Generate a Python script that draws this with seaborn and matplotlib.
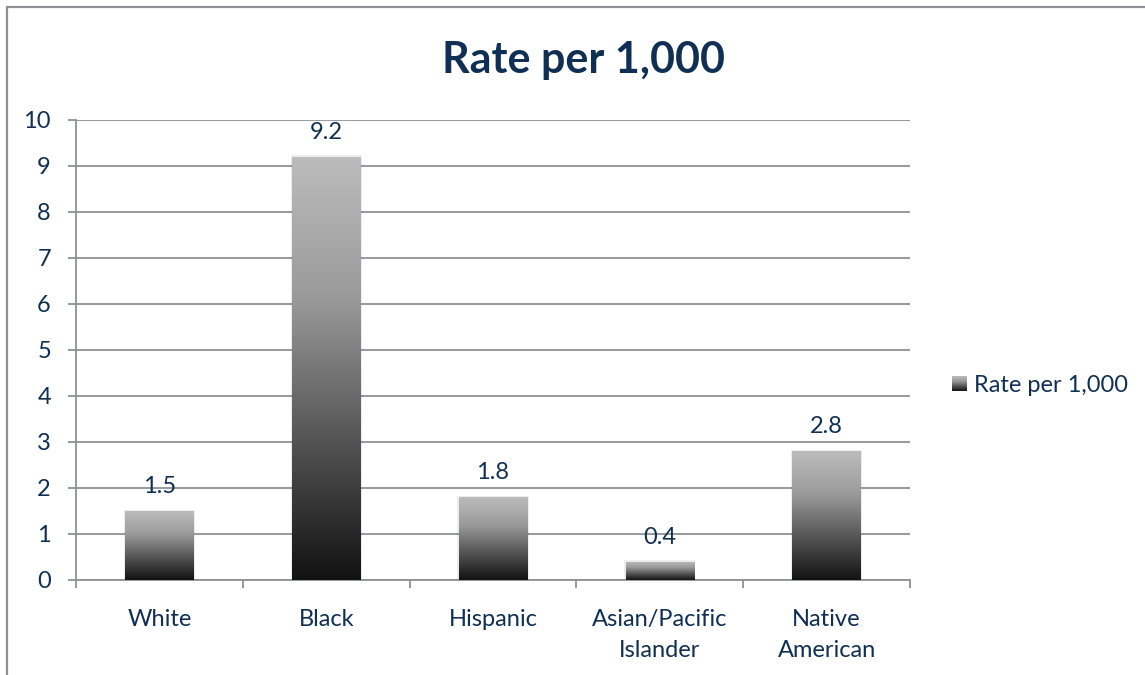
import numpy as np
import matplotlib
matplotlib.use('Agg')
import matplotlib.pyplot as plt
import seaborn as sns
from matplotlib.legend_handler import HandlerBase
from matplotlib.image import BboxImage
from matplotlib.transforms import Bbox, TransformedBbox
from matplotlib.patches import Rectangle
from matplotlib.lines import Line2D

# dados
categorias = ['White', 'Black', 'Hispanic', 'Asian/Pacific\nIslander', 'Native\nAmerican']
taxas = [1.5, 9.2, 1.8, 0.4, 2.8]
serie = 'Rate per 1,000'
y_ticks = list(range(0, 11))

COR_TEXTO = '#102F54'
COR_GRADE = '#8E9297'

sns.set_theme(style='white')
plt.rcParams['font.family'] = ['Lato', 'DejaVu Sans']

# gradiente vertical: cinza claro no topo, quase preto embaixo
grad = np.linspace(0, 1, 256).reshape(-1, 1)
cmap_barra = matplotlib.colors.LinearSegmentedColormap.from_list(
    'barra', ['#121212', '#555555', '#9A9A9A', '#BCBCBC'])

fig = plt.figure(figsize=(11.45, 6.75), dpi=100)
ax = fig.add_axes([76 / 1145, 95 / 675, 834 / 1145, 460 / 675])

sns.barplot(x=categorias, y=taxas, ax=ax, width=0.41, color='#777777', zorder=3)

for p in ax.patches:
    x0, y0 = p.get_x(), p.get_y()
    w, h = p.get_width(), p.get_height()
    # sombra bem leve
    ax.add_patch(Rectangle((x0 - 0.008, y0), w + 0.016, h + 0.03,
                           facecolor='black', alpha=0.07, edgecolor='none', zorder=2))
    im = ax.imshow(grad, cmap=cmap_barra, aspect='auto', origin='lower',
                   extent=[x0, x0 + w, y0, y0 + h], zorder=3, interpolation='bicubic')
    im.set_clip_path(p)
    p.set_facecolor('none')
    p.set_edgecolor('none')

ax.set_xlim(-0.5, 4.5)
ax.set_ylim(0, 10)
ax.set_yticks(y_ticks)
ax.yaxis.grid(True, color=COR_GRADE, linewidth=1.3, zorder=0)
ax.set_axisbelow(True)

# rotulos de dados
for i, v in enumerate(taxas):
    ax.text(i, v + 0.3, f'{v}', ha='center', va='bottom', fontsize=17, color=COR_TEXTO, zorder=5)

# eixos
for s in ['top', 'right']:
    ax.spines[s].set_visible(False)
ax.spines['left'].set_color(COR_GRADE)
ax.spines['bottom'].set_color(COR_GRADE)
ax.spines['left'].set_linewidth(1.3)
ax.spines['bottom'].set_linewidth(1.3)

ax.tick_params(axis='y', which='major', left=True, length=6, width=1.3, color=COR_GRADE,
               labelsize=17, labelcolor=COR_TEXTO, pad=12)
ax.set_xticks(range(len(categorias)))
ax.set_xticklabels(categorias, linespacing=1.6)
ax.set_xticks(np.arange(-0.5, 5, 1), minor=True)
ax.tick_params(axis='x', which='major', length=0, labelsize=17, labelcolor=COR_TEXTO, pad=21)
ax.tick_params(axis='x', which='minor', bottom=True, length=6, width=1.3, color=COR_GRADE)
ax.set_xlabel('')
ax.set_ylabel('')

fig.text(584 / 1145, 1 - 73 / 675, serie, ha='center', va='baseline',
         fontsize=31, fontweight='bold', color=COR_TEXTO)


# legenda com quadrado em gradiente
class HandlerGradiente(HandlerBase):
    def create_artists(self, legend, orig_handle, xdescent, ydescent, width, height, fontsize, trans):
        s = min(width, height)
        bb = Bbox.from_bounds(-xdescent + (width - s), -ydescent + (height - s) / 2, s, s)
        img = BboxImage(TransformedBbox(bb, trans), cmap=cmap_barra, origin='lower')
        img.set_data(grad)
        return [img]


h = Rectangle((0, 0), 1, 1)
leg = ax.legend([h], [serie], handler_map={Rectangle: HandlerGradiente()},
                loc='center left', bbox_to_anchor=(952 / 1145, 1 - 386 / 675),
                bbox_transform=fig.transFigure, frameon=False, fontsize=17,
                handlelength=0.6, handleheight=0.6, handletextpad=0.34, borderpad=0,
                borderaxespad=0)
for t in leg.get_texts():
    t.set_color(COR_TEXTO)

# moldura do grafico
fig.add_artist(Line2D([7 / 1145, 1], [1 - 7 / 675, 1 - 7 / 675], transform=fig.transFigure,
                      color=COR_GRADE, linewidth=1.6))
fig.add_artist(Line2D([7 / 1145, 7 / 1145], [0, 1 - 7 / 675], transform=fig.transFigure,
                      color=COR_GRADE, linewidth=1.6))

fig.savefig('out.png', dpi=100)
